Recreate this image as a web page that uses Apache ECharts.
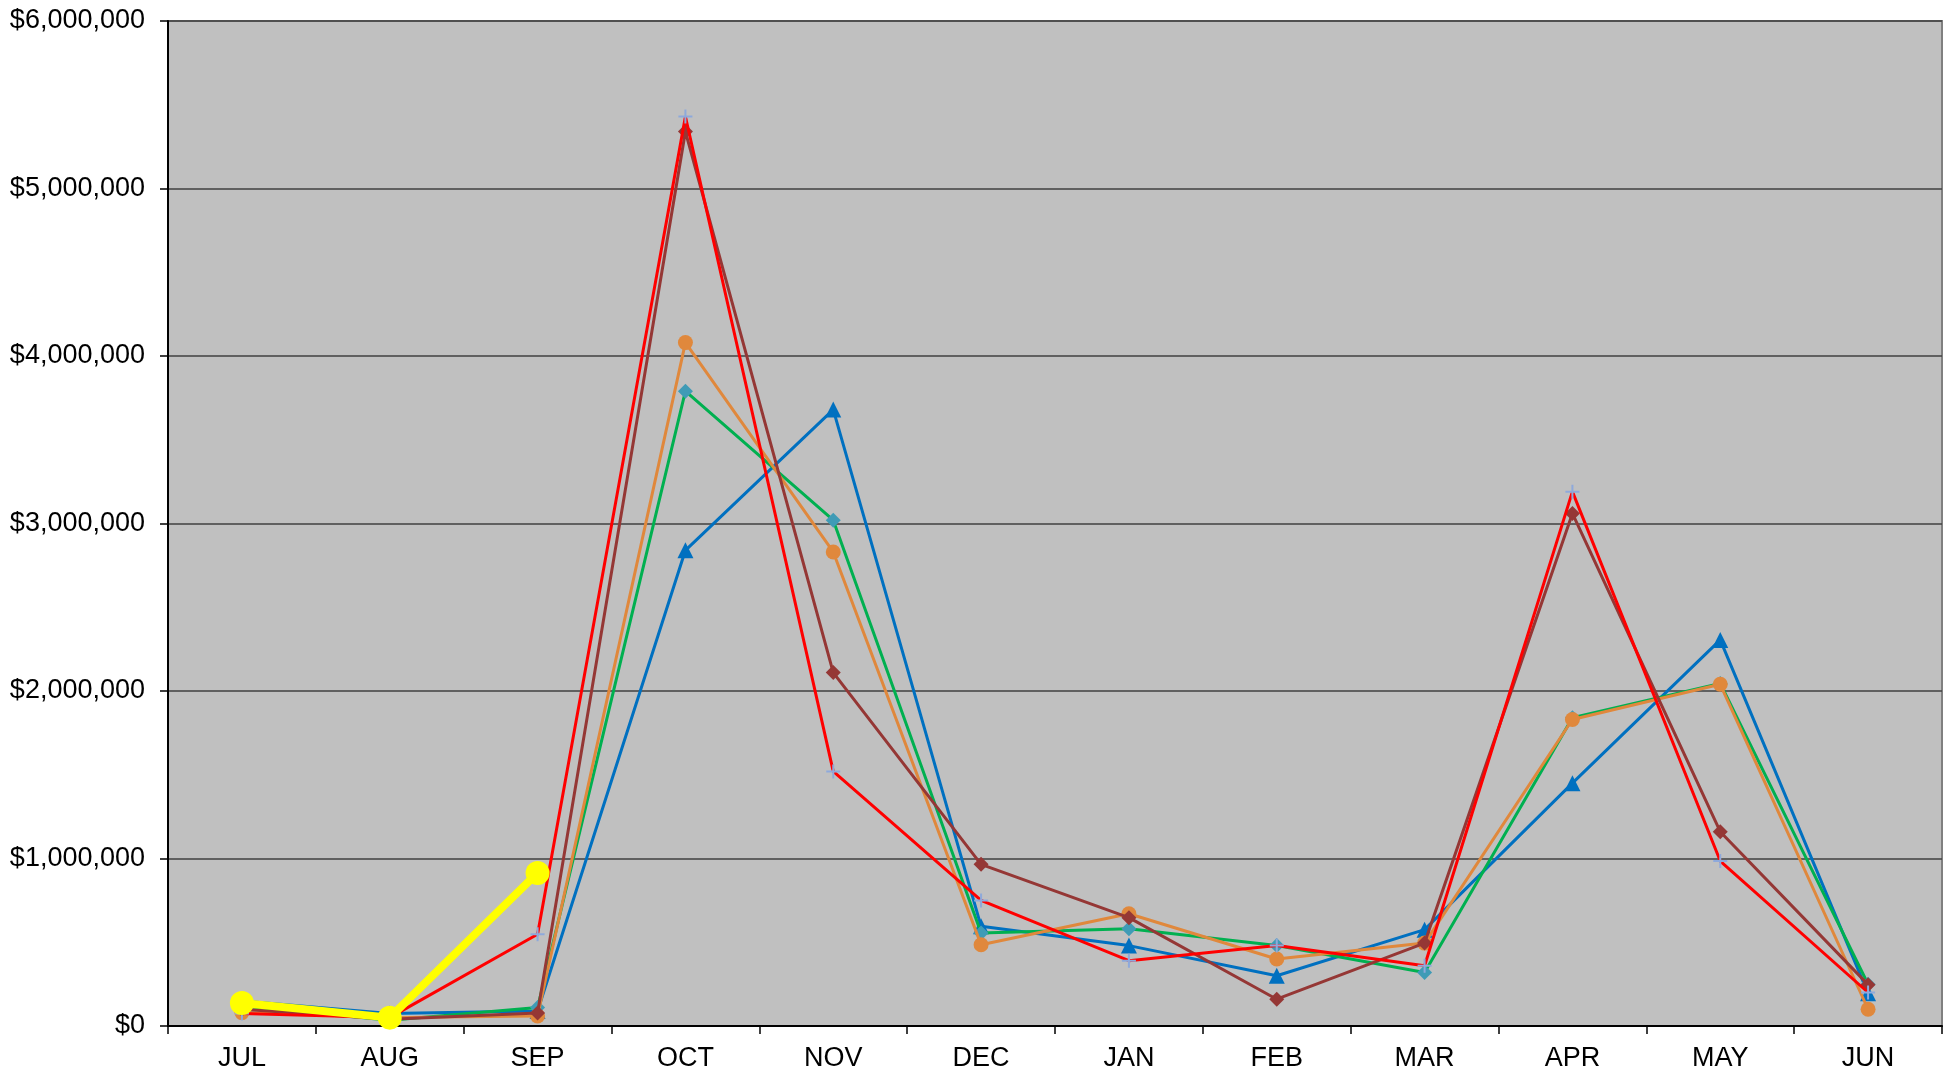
<!DOCTYPE html>
<html>
<head>
<meta charset="utf-8">
<script src="https://cdn.jsdelivr.net/npm/echarts@6/dist/echarts.min.js"></script>
<style>
html,body{margin:0;padding:0;background:#fff;}
#c{width:1944px;height:1078px;}
</style>
</head>
<body>
<div id="c"></div>
<script>
const categories = ['JUL','AUG','SEP','OCT','NOV','DEC','JAN','FEB','MAR','APR','MAY','JUN'];
const blueVals   = [150000, 75000, 90000, 2840000, 3680000, 595000, 480000, 300000, 575000, 1450000, 2305000, 195000];
const greenVals  = [120000, 35000, 110000, 3790000, 3020000, 555000, 580000, 480000, 320000, 1840000, 2045000, 250000];
const orangeVals = [80000, 50000, 60000, 4080000, 2830000, 485000, 670000, 400000, 495000, 1830000, 2040000, 100000];
const brownVals  = [100000, 40000, 78000, 5340000, 2110000, 965000, 647000, 160000, 495000, 3060000, 1160000, 247000];
const redVals    = [75000, 50000, 548000, 5430000, 1520000, 750000, 390000, 480000, 360000, 3190000, 985000, 200000];
const yellowVals = [137000, 50000, 914000, null, null, null, null, null, null, null, null, null];

const plusPath = 'path://M6,0H8V6H14V8H8V14H6V8H0V6H6Z';

function line(name, data, lineColor, markColor, symbol, size, width, z) {
  return {
    name: name, type: 'line', data: data, z: z,
    symbol: symbol, symbolSize: size, showSymbol: true,
    lineStyle: {color: lineColor, width: width},
    itemStyle: {color: markColor, borderWidth: 0},
    emphasis: {disabled: true},
    connectNulls: false
  };
}

const chart = echarts.init(document.getElementById('c'));
chart.setOption({
  animation: false,
  backgroundColor: '#ffffff',
  grid: {
    left: 168, right: 2, top: 21, bottom: 52,
    show: true, backgroundColor: '#C0C0C0', borderColor: '#808080', borderWidth: 2
  },
  xAxis: {
    type: 'category', data: categories, boundaryGap: true,
    axisLine: {show: true, lineStyle: {color: '#000', width: 2}},
    axisTick: {show: true, alignWithLabel: false, length: 8, lineStyle: {color: '#000', width: 1.5}},
    axisLabel: {color: '#000', fontSize: 27, fontFamily: 'Liberation Sans, Arial, sans-serif', margin: 19}
  },
  yAxis: {
    type: 'value', min: 0, max: 6000000, interval: 1000000,
    axisLine: {show: true, lineStyle: {color: '#000', width: 2}},
    axisTick: {show: true, length: 8, lineStyle: {color: '#000', width: 1.5}},
    splitLine: {show: true, lineStyle: {color: '#404040', width: 1.5}},
    axisLabel: {
      color: '#000', fontSize: 27, fontFamily: 'Liberation Sans, Arial, sans-serif', margin: 23,
      formatter: v => '$' + v.toLocaleString('en-US')
    }
  },
  series: [
    line('Blue', blueVals, '#0070C0', '#0070C0', 'triangle', 16, 3, 2),
    line('Green', greenVals, '#00B050', '#3F9BB6', 'diamond', 15, 3, 3),
    line('Orange', orangeVals, '#E0883C', '#E0883C', 'circle', 15, 3, 4),
    line('Brown', brownVals, '#953735', '#953735', 'diamond', 15, 3, 5),
    line('Red', redVals, '#FF0000', '#8EA9DB', plusPath, 14, 3, 6),
    line('Yellow', yellowVals, '#FFFF00', '#FFFF00', 'circle', 24, 8, 7)
  ]
});
</script>
</body>
</html>
